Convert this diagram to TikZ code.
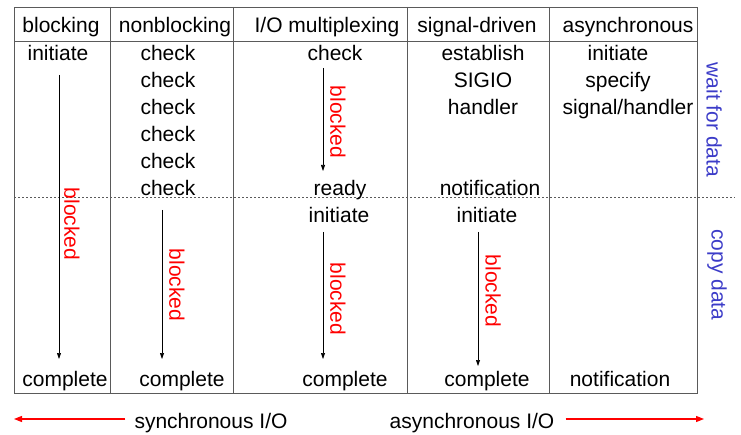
\documentclass[tikz,border=0pt]{standalone}
\usepackage{fontspec}
\setmainfont{Liberation Sans}
\usetikzlibrary{arrows.meta}
\definecolor{gridgray}{RGB}{90,90,90}
\definecolor{labelblue}{RGB}{60,60,200}
\definecolor{redtxt}{RGB}{255,0,0}
\begin{document}
\begin{tikzpicture}[x=1pt,y=-1pt,
  txt/.style={inner sep=0pt,text height=15pt,text depth=0pt,font=\fontsize{21}{24}\selectfont,text=black},
  blk/.style={inner sep=0pt,font=\fontsize{21}{24}\selectfont,text=redtxt,rotate=-90},
  side/.style={inner sep=0pt,font=\fontsize{21}{24}\selectfont,text=labelblue,rotate=-90},
  grid/.style={draw=gridgray,line width=0.9pt},
  flow/.style={draw=black,line width=0.6pt,-{Triangle[length=6pt,width=4pt]}},
  dir/.style={draw=redtxt,line width=1.2pt,-{Triangle[length=8pt,width=6pt]}}]
\useasboundingbox (0,0) rectangle (741,435);
% table frame
\draw[grid] (14,7) rectangle (697,393);
\draw[grid] (14,41) -- (697,41);
\foreach \xx in {110,233,407,549} \draw[grid] (\xx,7) -- (\xx,393);
\draw[draw=gridgray,line width=0.7pt,dash pattern=on 2pt off 2pt] (14,197) -- (735,197);
% headers
\node[txt] (h1) at (61,25) {blocking};
\node[txt] (h2) at (175,25) {nonblocking};
\node[txt] (h3) at (327,25) {I/O multiplexing};
\node[txt] (h4) at (477,25) {signal-driven};
\node[txt] (h5) at (628,25) {asynchronous};
% col 1
\node[txt] (a1) at (58,53) {initiate};
\node[txt] (a2) at (65,379) {complete};
\coordinate (a1s) at (59,75);
\coordinate (a1e) at (59,359);
\draw[flow] (a1s) -- (a1e);
\node[blk] (ab) at (72,224) {blocked};
% col 2
\foreach \yy/\nn in {53/1,80/2,107/3,134/4,161/5,188/6}
  \node[txt] (c\nn) at (168,\yy) {check};
\coordinate (b1s) at (162,210);
\coordinate (b1e) at (162,359);
\draw[flow] (b1s) -- (b1e);
\node[blk] (bb) at (177,285) {blocked};
\node[txt] (b2) at (182,379) {complete};
% col 3
\node[txt] (m1) at (335,53) {check};
\coordinate (m1s) at (323,68);
\coordinate (m1e) at (323,171);
\draw[flow] (m1s) -- (m1e);
\node[blk] (mb1) at (338,122) {blocked};
\node[txt] (m2) at (340,188) {ready};
\node[txt] (m3) at (339,215) {initiate};
\coordinate (m3s) at (323,232);
\coordinate (m3e) at (323,359);
\draw[flow] (m3s) -- (m3e);
\node[blk] (mb2) at (338,299) {blocked};
\node[txt] (m4) at (345,379) {complete};
% col 4
\node[txt] (s1) at (483,53) {establish};
\node[txt] (s2) at (483,80) {SIGIO};
\node[txt] (s3) at (483,107) {handler};
\node[txt] (s4) at (490,188) {notification};
\node[txt] (s5) at (487,215) {initiate};
\coordinate (s5s) at (478,232);
\coordinate (s5e) at (478,366);
\draw[flow] (s5s) -- (s5e);
\node[blk] (sb) at (493,291) {blocked};
\node[txt] (s6) at (487,379) {complete};
% col 5
\node[txt] (y1) at (618,53) {initiate};
\node[txt] (y2) at (618,80) {specify};
\node[txt] (y3) at (628,107) {signal/handler};
\node[txt] (y4) at (620,379) {notification};
% side labels
\node[side] (w) at (714,120) {wait for data};
\node[side] (cp) at (717,275) {copy data};
% bottom
\node[txt] (sy) at (211,421) {synchronous I/O};
\node[txt] (as) at (472,421) {asynchronous I/O};
\coordinate (sl) at (14,419);
\coordinate (ar) at (704,419);
\draw[dir] (sy.west |- sl) ++(-9,0) coordinate (sys) -- (sl);
\draw[dir] (as.east |- ar) ++(11,0) coordinate (ass) -- (ar);
\end{tikzpicture}
\end{document}
